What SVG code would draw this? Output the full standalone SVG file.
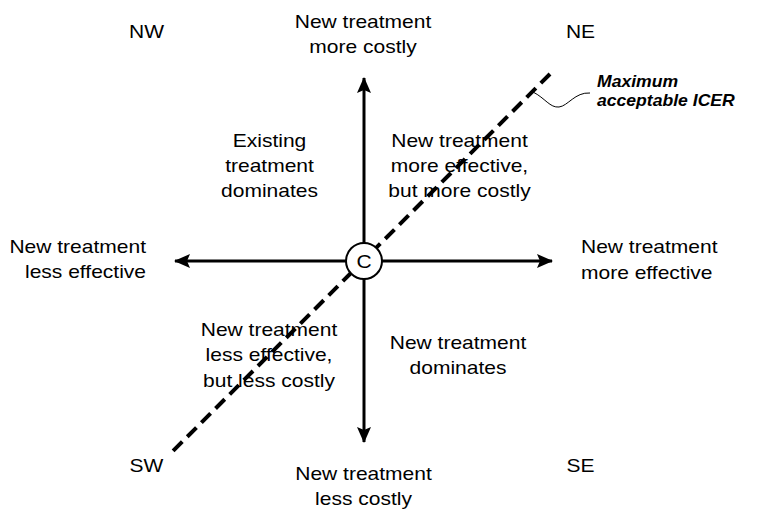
<svg xmlns="http://www.w3.org/2000/svg" width="769" height="509" viewBox="0 0 769 509">
  <style>
    .lbl { font-family: "Liberation Sans", Arial, sans-serif; font-size: 18.6px; fill: #000; }
    .mid { text-anchor: middle; }
    .end { text-anchor: end; }
    .start { text-anchor: start; }
    .icer { font-family: "Liberation Sans", Arial, sans-serif; font-size: 16px; font-weight: bold; font-style: italic; fill: #000; }
    .axis { stroke: #000; stroke-width: 3; fill: none; }
    .threshold { stroke: #000; stroke-width: 4; stroke-dasharray: 13 7; fill: none; }
    .leader { stroke: #000; stroke-width: 1; fill: none; }
  </style>
  <defs>
    <marker id="arrow" viewBox="0 0 16 14" refX="15" refY="7" markerWidth="16" markerHeight="14" markerUnits="userSpaceOnUse" orient="auto">
      <path d="M0,0 L16,7 L0,14 L3,7 Z" fill="#000"/>
    </marker>
  </defs>

  <rect width="769" height="509" fill="#fff"/>

  <!-- axes, threshold line and leader -->
  <g id="connectors">
    <line class="axis" x1="364" y1="261" x2="364" y2="78" marker-end="url(#arrow)"/>
    <line class="axis" x1="364" y1="261" x2="364" y2="442" marker-end="url(#arrow)"/>
    <line class="axis" x1="364" y1="261" x2="175" y2="261" marker-end="url(#arrow)"/>
    <line class="axis" x1="364" y1="261" x2="552" y2="261" marker-end="url(#arrow)"/>
    <line class="threshold" x1="550" y1="74" x2="173" y2="451"/>
    <path class="leader" d="M533,92 C545,98 550,108 559,107 C568,106 575,92 590,93"/>
  </g>

  <!-- origin -->
  <g id="origin">
    <circle cx="364" cy="261" r="18" fill="#fff" stroke="#000" stroke-width="2"/>
    <text class="lbl mid" transform="translate(364,267.5) scale(1.13,1)">C</text>
  </g>

  <!-- compass corners -->
  <g id="nw"><text class="lbl mid" transform="translate(146.5,38.3) scale(1.13,1)">NW</text></g>
  <g id="ne"><text class="lbl mid" transform="translate(580.5,38.3) scale(1.13,1)">NE</text></g>
  <g id="sw"><text class="lbl mid" transform="translate(146.5,471.5) scale(1.13,1)">SW</text></g>
  <g id="se"><text class="lbl mid" transform="translate(580.5,471.5) scale(1.13,1)">SE</text></g>

  <!-- axis ends -->
  <g id="more-costly">
    <text class="lbl mid" transform="translate(363,28) scale(1.13,1)"><tspan x="0">New treatment</tspan><tspan x="0" dy="25">more costly</tspan></text>
  </g>
  <g id="less-costly">
    <text class="lbl mid" transform="translate(363.5,480) scale(1.13,1)"><tspan x="0">New treatment</tspan><tspan x="0" dy="25">less costly</tspan></text>
  </g>
  <g id="less-effective">
    <text class="lbl end" transform="translate(146,252.7) scale(1.13,1)"><tspan x="0">New treatment</tspan><tspan x="0" dy="25.6">less effective</tspan></text>
  </g>
  <g id="more-effective">
    <text class="lbl start" transform="translate(581,253.3) scale(1.13,1)"><tspan x="0">New treatment</tspan><tspan x="0" dy="25.7">more effective</tspan></text>
  </g>

  <!-- quadrants -->
  <g id="quadrant-nw">
    <text class="lbl mid" transform="translate(269.5,146.7) scale(1.13,1)"><tspan x="0">Existing</tspan><tspan x="0" dy="25">treatment</tspan><tspan x="0" dy="25">dominates</tspan></text>
  </g>
  <g id="quadrant-ne">
    <text class="lbl mid" transform="translate(459.5,146.7) scale(1.13,1)"><tspan x="0">New treatment</tspan><tspan x="0" dy="25">more effective,</tspan><tspan x="0" dy="25">but more costly</tspan></text>
  </g>
  <g id="quadrant-sw">
    <text class="lbl mid" transform="translate(269,336) scale(1.13,1)"><tspan x="0">New treatment</tspan><tspan x="0" dy="25.3">less effective,</tspan><tspan x="0" dy="25.3">but less costly</tspan></text>
  </g>
  <g id="quadrant-se">
    <text class="lbl mid" transform="translate(458,349) scale(1.13,1)"><tspan x="0">New treatment</tspan><tspan x="0" dy="25">dominates</tspan></text>
  </g>

  <!-- threshold label -->
  <g id="icer-label">
    <text class="icer start" transform="translate(597,86.7) scale(1.1,1)"><tspan x="0">Maximum</tspan><tspan x="0" dy="19">acceptable ICER</tspan></text>
  </g>
</svg>
